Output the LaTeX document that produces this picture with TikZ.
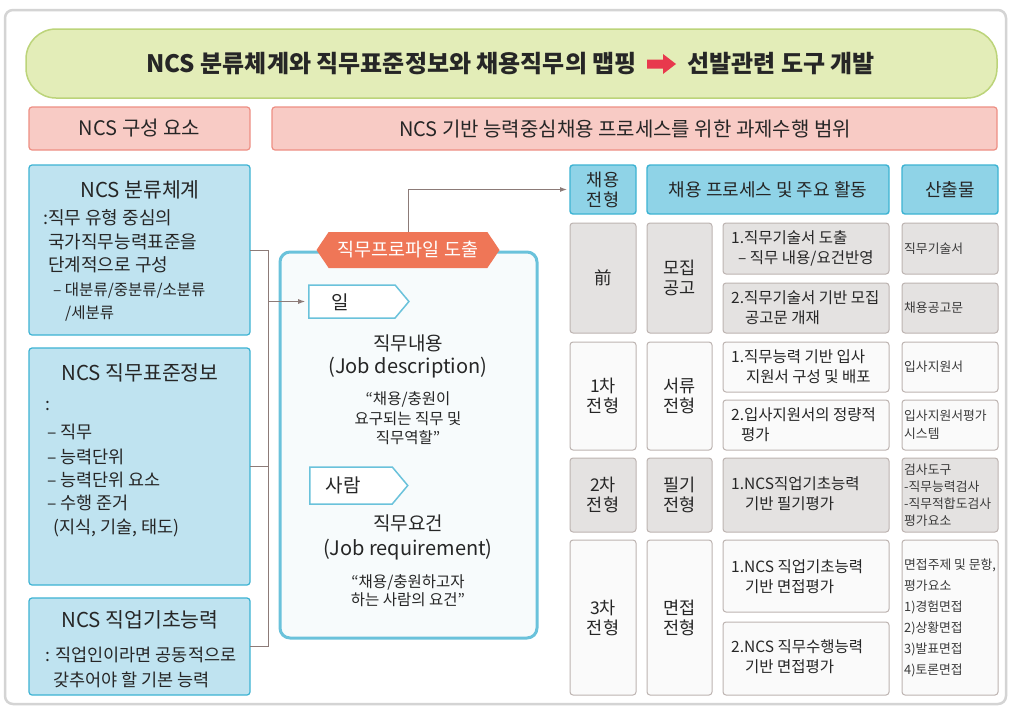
\documentclass[tikz,border=0pt]{standalone}
\usepackage{fontspec}
\setmainfont{Noto Sans CJK KR}
\usetikzlibrary{shapes.symbols,arrows.meta}
\definecolor{framec}{HTML}{D4D4D4}
\definecolor{gfill}{HTML}{E3EDB8}
\definecolor{gdraw}{HTML}{BCD47A}
\definecolor{pfill}{HTML}{F8CBC5}
\definecolor{pdraw}{HTML}{EE8F84}
\definecolor{bfill}{HTML}{BFE3F0}
\definecolor{bdraw}{HTML}{3DB3D3}
\definecolor{hfill}{HTML}{8FD3E7}
\definecolor{mdraw}{HTML}{6AC2DB}
\definecolor{mfill}{HTML}{F7FBFC}
\definecolor{cgray}{HTML}{E4E2E1}
\definecolor{cwhite}{HTML}{FAFAFA}
\definecolor{cdraw}{HTML}{BDB4B1}
\definecolor{connc}{HTML}{8C7B78}
\definecolor{hexc}{HTML}{EF7657}
\definecolor{redarr}{HTML}{E8394D}
\definecolor{txt}{HTML}{262626}
\definecolor{txt4}{HTML}{3A3A3A}
\tikzset{
 box/.style={rounded corners=3pt, line width=1.2pt, inner sep=0pt, outer sep=0pt},
 bluebox/.style={box, draw=bdraw, fill=bfill},
 pinkbox/.style={box, draw=pdraw, fill=pfill},
 headbox/.style={box, draw=bdraw, fill=hfill, line width=1.4pt},
 graycell/.style={box, draw=cdraw, fill=cgray, line width=1pt},
 whitecell/.style={box, draw=cdraw, fill=cwhite, line width=1pt},
 link/.style={draw=connc, line width=1pt},
 tagbox/.style={signal, signal to=east, signal pointer angle=100, draw=mdraw, fill=white, line width=1.5pt, inner sep=0pt},
 t/.style={text=txt, inner sep=0pt},
 lt/.style={t, anchor=west},
 c3/.style={t, anchor=west, align=left, font=\fs{15.5}{20}},
 c4/.style={t, anchor=west, align=left, text=txt4, font=\fs{12.8}{18}},
 cc/.style={t, align=center, font=\fs{17.5}{20}},
}
\newcommand\fs[2]{\fontsize{#1}{#2}\selectfont}
\newcommand\bx[6]{\node[#2, minimum width={(#5-#3)*1pt}, minimum height={(#6-#4)*1pt}] (#1) at ({(#3+#5)/2},{(#4+#6)/2}) {};}
\begin{document}
\begin{tikzpicture}[x=1pt,y=-1pt]
\useasboundingbox (0,0) rectangle (1011,713);
\fill[white] (0,0) rectangle (1011,713);
\draw[framec, line width=2.5pt, rounded corners=8pt] (5,10) rectangle (1006,704);

% title
\bx{title}{box, draw=gdraw, fill=gfill, rounded corners=30pt, line width=1.5pt}{26}{29}{997}{98}
\node[t, anchor=east, font=\fs{24}{28}\bfseries] (tl) at (637,64) {NCS 분류체계와 직무표준정보와 채용직무의 맵핑};
\fill[redarr, shift={(661,64)}] (-14,-4.5) -- (2,-4.5) -- (2,-10) -- (15,0) -- (2,10) -- (2,4.5) -- (-14,4.5) -- cycle;
\node[t, anchor=west, font=\fs{24}{28}\bfseries] (tr) at (687,64) {선발관련 도구 개발};

% pink headers
\bx{p1}{pinkbox}{29}{107}{250}{150}
\node[t, font=\fs{20}{22}] at (p1) {NCS 구성 요소};
\bx{p2}{pinkbox}{272}{107}{997}{150}
\node[t, font=\fs{20}{22}] at (625,129) {NCS 기반 능력중심채용 프로세스를 위한 과제수행 범위};

% left boxes
\bx{A}{bluebox}{29}{165}{250}{335}
\node[t, font=\fs{20.5}{22}] at (140,190) {NCS 분류체계};
\node[lt, font=\fs{18}{20}] at (43,218) {:직무 유형 중심의};
\node[lt, font=\fs{18}{20}] at (48,242) {국가직무능력표준을};
\node[lt, font=\fs{18}{20}] at (48,265) {단계적으로 구성};
\node[lt, font=\fs{15.5}{18}] at (53,290) {– 대분류/중분류/소분류};
\node[lt, font=\fs{15.5}{18}] at (65,313) {/세분류};

\bx{B}{bluebox}{29}{348}{250}{585}
\node[t, font=\fs{20.5}{22}] at (140,373) {NCS 직무표준정보};
\node[lt, font=\fs{17.5}{20}] at (45,406) {:};
\node[lt, font=\fs{17.5}{20}] at (47,432) {– 직무};
\node[lt, font=\fs{17.5}{20}] at (47,457) {– 능력단위};
\node[lt, font=\fs{17.5}{20}] at (47,480) {– 능력단위 요소};
\node[lt, font=\fs{17.5}{20}] at (47,503) {– 수행 준거};
\node[lt, font=\fs{17.5}{20}] at (53,528) {(지식, 기술, 태도)};

\bx{C}{bluebox}{29}{598}{250}{695}
\node[t, font=\fs{20.5}{22}] at (140,620) {NCS 직업기초능력};
\node[lt, font=\fs{17.5}{20}] at (45,655) {: 직업인이라면 공동적으로};
\node[lt, font=\fs{17.5}{20}] at (53,680) {갖추어야 할 기본 능력};

% middle
\bx{M}{box, draw=mdraw, fill=mfill, line width=3pt, rounded corners=10pt}{280}{252}{537}{638}
\node[signal, signal to=west and east, signal pointer angle=112, fill=hexc, minimum width=183pt, minimum height=36pt, inner sep=0pt, text=white, font=\fs{18.5}{20}] (hex) at (408,250) {직무프로파일 도출};
\node[tagbox, minimum width=100pt, minimum height=33pt] (tag1) at (352,301.5) {};
\node[t, font=\fs{19}{20}] at (340,302) {일};
\node[tagbox, minimum width=98pt, minimum height=37pt] (tag2) at (351,485.5) {};
\node[t, font=\fs{19}{20}] at (343,485) {사람};
\node[t, font=\fs{19}{20}] at (408,343) {직무내용};
\node[t, font=\fs{20}{20}] at (408,368) {(Job description)};
\node[t, font=\fs{15.5}{18}] at (408,399) {“채용/충원이};
\node[t, font=\fs{15.5}{18}] at (408,419) {요구되는 직무 및};
\node[t, font=\fs{15.5}{18}] at (408,438) {직무역할”};
\node[t, font=\fs{19}{20}] at (408,523) {직무요건};
\node[t, font=\fs{20}{20}] at (408,550) {(Job requirement)};
\node[t, font=\fs{15.5}{18}] at (408,582) {“채용/충원하고자};
\node[t, font=\fs{15.5}{18}] at (408,600) {하는 사람의 요건”};

% table
\bx{H1}{headbox}{570}{165}{636}{214}
\node[cc] at (H1) {채용\\전형};
\bx{H2}{headbox}{647}{165}{889}{214}
\node[cc, font=\fs{18}{20}] at (H2) {채용 프로세스 및 주요 활동};
\bx{H3}{headbox}{902}{165}{998}{214}
\node[cc, font=\fs{18}{20}] at (H3) {산출물};

\bx{r0a}{graycell}{570}{223}{636}{333}
\node[cc] at (r0a) {前};
\bx{r0b}{graycell}{647}{223}{712}{333}
\node[cc] at (r0b) {모집\\공고};
\bx{r0c1}{graycell}{723}{223}{889}{274}
\node[c3] at (731,248.5) {1.직무기술서 도출\\\hspace*{7pt}– 직무 내용/요건반영};
\bx{r0c2}{graycell}{723}{283}{889}{333}
\node[c3] at (731,308) {2.직무기술서 기반 모집\\\hspace*{14pt}공고문 개재};
\bx{r0d1}{graycell}{902}{223}{998}{274}
\node[c4] at (904,248.5) {직무기술서};
\bx{r0d2}{graycell}{902}{283}{998}{333}
\node[c4] at (904,308) {채용공고문};

\bx{r1a}{whitecell}{570}{342}{636}{450}
\node[cc] at (r1a) {1차\\전형};
\bx{r1b}{whitecell}{647}{342}{712}{450}
\node[cc] at (r1b) {서류\\전형};
\bx{r1c1}{whitecell}{723}{342}{889}{392}
\node[c3] at (731,367) {1.직무능력 기반 입사\\\hspace*{15pt}지원서 구성 및 배포};
\bx{r1c2}{whitecell}{723}{400}{889}{450}
\node[c3] at (731,425) {2.입사지원서의 정량적\\\hspace*{10pt}평가};
\bx{r1d1}{whitecell}{902}{342}{998}{392}
\node[c4] at (904,367) {입사지원서};
\bx{r1d2}{whitecell}{902}{400}{998}{450}
\node[c4] at (904,425) {입사지원서평가\\시스템};

\bx{r2a}{graycell}{570}{458}{636}{532}
\node[cc] at (r2a) {2차\\전형};
\bx{r2b}{graycell}{647}{458}{712}{532}
\node[cc] at (r2b) {필기\\전형};
\bx{r2c}{graycell}{723}{458}{889}{532}
\node[c3] at (731,494) {1.NCS직업기초능력\\\hspace*{14pt}기반 필기평가};
\bx{r2d}{graycell}{902}{458}{998}{532}
\node[c4, font=\fs{12.8}{17}] at (904,495) {검사도구\\-직무능력검사\\-직무적합도검사\\평가요소};

\bx{r3a}{whitecell}{570}{540}{636}{695}
\node[cc] at (r3a) {3차\\전형};
\bx{r3b}{whitecell}{647}{540}{712}{695}
\node[cc] at (r3b) {면접\\전형};
\bx{r3c1}{whitecell}{723}{540}{889}{612}
\node[c3] at (731,577) {1.NCS 직업기초능력\\\hspace*{14pt}기반 면접평가};
\bx{r3c2}{whitecell}{723}{622}{889}{695}
\node[c3] at (731,657) {2.NCS 직무수행능력\\\hspace*{14pt}기반 면접평가};
\bx{r3d}{whitecell}{902}{540}{998}{695}
\node[c4, font=\fs{12.8}{21}] at (904,618) {면접주제 및 문항,\\평가요소\\1)경험면접\\2)상황면접\\3)발표면접\\4)토론면접};

% connectors
\coordinate (ka) at (268,250);
\draw[link] (A.east) -- (ka) -- (ka |- C.east) -- (C.east);
\draw[link] (B.east) -- (B.east -| ka);
\draw[link, -{Latex[length=7pt,width=5pt]}, shorten >=3pt] (ka |- tag1.west) -- (tag1.west);
\draw[link, -{Latex[length=7pt,width=5pt]}, shorten >=3pt] (hex.north) |- (H1.west);
\end{tikzpicture}
\end{document}
